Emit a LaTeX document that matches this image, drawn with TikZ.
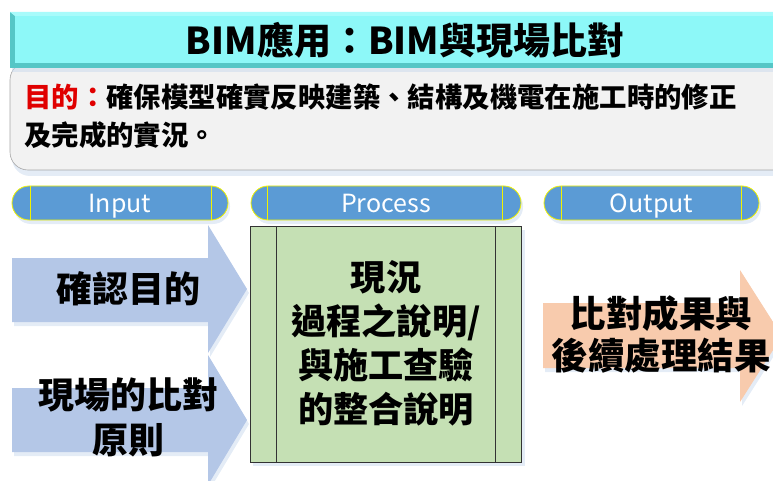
\documentclass[tikz,border=0pt]{standalone}
\usepackage{fontspec}
\setmainfont{Noto Sans CJK TC}
\definecolor{titlefill}{HTML}{8DF8F8}
\definecolor{titleedge}{HTML}{55C6C6}
\definecolor{titletop}{HTML}{A8FBFB}
\definecolor{purpfill}{HTML}{F2F2F2}
\definecolor{purpedge}{HTML}{A6A6A6}
\definecolor{pillfill}{HTML}{5B9BD5}
\definecolor{pilledge}{HTML}{F2F200}
\definecolor{infill}{HTML}{B4C7E7}
\definecolor{procfill}{HTML}{C5E0B4}
\definecolor{outfill}{HTML}{F8CBAD}
\definecolor{shadowc}{HTML}{C9D9EE}
\definecolor{redtxt}{HTML}{E00000}
\tikzset{
  pill/.style={fill=pillfill, draw=pilledge, line width=0.8pt, rounded corners=17pt},
  pilltext/.style={text=white, font=\fontsize{25}{28}\selectfont, inner sep=0pt, anchor=base},
  bigtext/.style={font=\bfseries\fontsize{36}{44}\selectfont, align=center, inner sep=0pt, text=black},
  softshadow/.style={fill=shadowc, opacity=0.5}
}
\begin{document}
\begin{tikzpicture}[x=1pt,y=-1pt]
\useasboundingbox (0,0) rectangle (773,481);
\clip (0,0) rectangle (773,481);
% purpose box
\fill[softshadow] (12,70) [rounded corners=18pt] rectangle (800,176);
\draw[fill=purpfill, draw=purpedge, line width=0.6pt, rounded corners=18pt] (10,62) rectangle (800,170);
% title bar
\fill[softshadow] (12,16) rectangle (800,72);
\fill[titleedge] (10,12) rectangle (800,68);
\fill[titletop] (10,12) -- (800,12) -- (800,16) -- (15,16) -- cycle;
\fill[titlefill] (15,16) rectangle (800,63);
\node[font=\bfseries\fontsize{37}{40}\selectfont, inner sep=0pt] (title) at (405,40) {BIM應用：BIM與現場比對};
% purpose text
\node[anchor=west, font=\bfseries\fontsize{27.4}{30}\selectfont, inner sep=0pt] (purp1) at (24,97) {\textcolor{redtxt}{目的：}確保模型確實反映建築、結構及機電在施工時的修正};
\node[anchor=west, font=\bfseries\fontsize{27.4}{30}\selectfont, inner sep=0pt] (purp2) at (24,135) {及完成的實況。};
% pills
\foreach \n/\a/\b/\la/\lb/\t in {pin/12/228/30/211/Input, ppr/251/521/267/502/Process, pout/544/759/561/741/Output}{
  \fill[softshadow] (\a+2,189) [rounded corners=17pt] rectangle (\b+2,224);
  \draw[pill] (\a,186) rectangle (\b,220);
  \draw[pilledge, line width=0.8pt] (\la,186) -- (\la,220) (\lb,186) -- (\lb,220);
  \node[pilltext] (\n) at ({(\a+\b)/2},212) {\t};
}
% input arrows
\fill[softshadow] (14,262) -- (210,262) -- (210,229) -- (249,293) -- (210,357) -- (210,326) -- (14,326) -- cycle;
\fill[infill] (12,258) -- (208,258) -- (208,225) -- (247,289) -- (208,353) -- (208,322) -- (12,322) -- cycle;
\fill[softshadow] (14,392) -- (210,392) -- (210,359) -- (249,424) -- (210,489) -- (210,456) -- (14,456) -- cycle;
\fill[infill] (12,388) -- (208,388) -- (208,355) -- (247,420) -- (208,485) -- (208,452) -- (12,452) -- cycle;
\node[bigtext] (in1) at (128,289) {確認目的};
\node[bigtext, font=\bfseries\fontsize{36}{45}\selectfont] (in2) at (128,417) {現場的比對\\原則};
% process box
\fill[softshadow] (253,230) rectangle (525,466);
\draw[fill=procfill, draw=black!80, line width=0.7pt] (250,226) rectangle (521,462);
\draw[black!80, line width=0.7pt] (276,226) -- (276,462) (495,226) -- (495,462);
\node[bigtext, font=\bfseries\fontsize{35.2}{44}\selectfont] (proc) at (386,343) {現況\\過程之說明/\\與施工查驗\\的整合說明};
% output arrow
\fill[softshadow] (545,307) -- (742,307) -- (742,274) -- (784,340) -- (742,406) -- (742,372) -- (545,372) -- cycle;
\fill[outfill] (543,303) -- (740,303) -- (740,270) -- (782,336) -- (740,402) -- (740,368) -- (543,368) -- cycle;
\node[bigtext, font=\bfseries\fontsize{36.5}{42}\selectfont] (out) at (661,334) {比對成果與\\後續處理結果};
\end{tikzpicture}
\end{document}
